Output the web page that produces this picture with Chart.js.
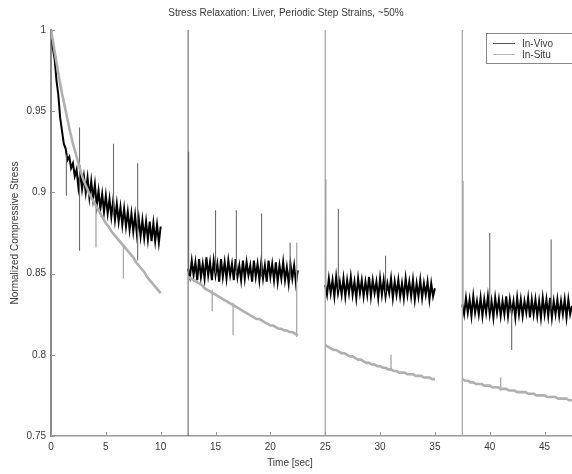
<!DOCTYPE html>
<html><head><meta charset="utf-8">
<script src="https://cdn.jsdelivr.net/npm/chart.js@4.4.1/dist/chart.umd.min.js"></script>
<style>html,body{margin:0;padding:0;background:#fff;}canvas{display:block;}</style>
</head><body>
<canvas id="c" width="572" height="474"></canvas>
<script>
const chartTitle = 'Stress Relaxation: Liver, Periodic Step Strains, ~50%';
const xTitle = 'Time [sec]';
const yTitle = 'Normalized Compressive Stress';
const seriesNames = ['In-Vivo', 'In-Situ'];
const xTicks = [0, 5, 10, 15, 20, 25, 30, 35, 40, 45];
const yTicks = [0.75, 0.8, 0.85, 0.9, 0.95, 1];
const segmentStarts = [0, 12.5, 25, 37.5];
const inVivoSampleStep = 1 / 6;
const inSituSampleStep = 0.25;

const inVivoSeg1 = [1.000,0.989,0.982,0.969,0.960,0.946,0.938,0.930,0.927,0.920,0.922,0.915,0.918,0.910,0.914,0.903,0.912,0.902,0.910,0.900,0.909,0.897,0.907,0.896,0.905,0.892,0.901,0.890,0.899,0.888,0.898,0.887,0.896,0.885,0.895,0.883,0.893,0.882,0.891,0.880,0.890,0.879,0.888,0.877,0.887,0.876,0.886,0.874,0.884,0.873,0.883,0.872,0.882,0.871,0.882,0.870,0.881,0.870,0.880,0.869,0.879];
const inVivoSeg2 = [0.853,0.848,0.858,0.849,0.857,0.846,0.859,0.848,0.856,0.847,0.860,0.849,0.857,0.846,0.858,0.849,0.856,0.845,0.859,0.848,0.857,0.847,0.858,0.849,0.856,0.846,0.859,0.848,0.855,0.846,0.858,0.847,0.857,0.849,0.855,0.845,0.858,0.848,0.856,0.846,0.857,0.847,0.855,0.845,0.858,0.848,0.856,0.846,0.857,0.845,0.855,0.847,0.857,0.846,0.854,0.844,0.856,0.847,0.855,0.844,0.852];
const inVivoSeg3 = [0.843,0.837,0.847,0.838,0.846,0.836,0.848,0.838,0.845,0.837,0.847,0.836,0.846,0.838,0.848,0.837,0.845,0.835,0.847,0.838,0.846,0.836,0.845,0.837,0.848,0.836,0.846,0.838,0.845,0.835,0.847,0.837,0.846,0.836,0.844,0.838,0.847,0.835,0.845,0.837,0.846,0.836,0.844,0.835,0.847,0.837,0.845,0.836,0.846,0.834,0.844,0.836,0.846,0.835,0.844,0.837,0.845,0.834,0.844,0.836,0.841];
const inVivoSeg4 = [0.831,0.825,0.835,0.826,0.834,0.824,0.836,0.826,0.833,0.825,0.835,0.824,0.834,0.826,0.836,0.825,0.833,0.823,0.835,0.826,0.834,0.824,0.833,0.825,0.836,0.824,0.834,0.826,0.833,0.823,0.835,0.825,0.834,0.824,0.833,0.826,0.835,0.823,0.834,0.825,0.834,0.824,0.833,0.823,0.835,0.825,0.834,0.824,0.835,0.823,0.833,0.825,0.834,0.824,0.833,0.825,0.834,0.823,0.834,0.825,0.830];
// [time, low, high] of the thin spikes and step lines in the In-Vivo trace
const inVivoSpikes = [[1.4,0.898,0.923],[2.6,0.864,0.940],[5.7,0.886,0.930],[7.9,0.858,0.918],[12.5,0.740,1.010],[12.55,0.850,0.925],[15.0,0.850,0.889],[16.9,0.850,0.889],[19.2,0.848,0.887],[21.8,0.846,0.869],[25.05,0.840,0.908],[26.2,0.840,0.890],[30.5,0.838,0.861],[37.55,0.828,0.907],[40.0,0.829,0.875],[42.0,0.803,0.829],[45.6,0.828,0.871]];

const inSituSeg1 = [1.000,0.990,0.980,0.970,0.961,0.953,0.945,0.937,0.930,0.924,0.918,0.912,0.907,0.903,0.899,0.896,0.893,0.890,0.887,0.884,0.881,0.879,0.876,0.874,0.872,0.870,0.868,0.866,0.864,0.862,0.860,0.857,0.855,0.853,0.851,0.848,0.846,0.844,0.842,0.840,0.838];
const inSituSeg2 = [0.848,0.847,0.846,0.845,0.844,0.843,0.841,0.840,0.839,0.838,0.837,0.836,0.835,0.834,0.833,0.832,0.831,0.830,0.829,0.828,0.827,0.826,0.825,0.824,0.823,0.822,0.822,0.821,0.820,0.819,0.818,0.818,0.817,0.816,0.816,0.815,0.815,0.814,0.814,0.813,0.812];
const inSituSeg3 = [0.806,0.805,0.804,0.803,0.803,0.802,0.801,0.801,0.800,0.799,0.799,0.798,0.797,0.797,0.796,0.795,0.795,0.794,0.794,0.793,0.793,0.792,0.792,0.791,0.791,0.790,0.790,0.789,0.789,0.789,0.788,0.788,0.788,0.787,0.787,0.787,0.786,0.786,0.786,0.785,0.785];
const inSituSeg4 = [0.785,0.784,0.784,0.783,0.783,0.782,0.782,0.782,0.781,0.781,0.781,0.780,0.780,0.780,0.779,0.779,0.779,0.778,0.778,0.778,0.777,0.777,0.777,0.777,0.776,0.776,0.776,0.775,0.775,0.775,0.775,0.774,0.774,0.774,0.774,0.773,0.773,0.773,0.773,0.772,0.772];
const inSituSpikes = [[4.1,0.866,0.893],[6.6,0.847,0.868],[14.7,0.827,0.840],[16.6,0.812,0.832],[22.4,0.811,0.869],[25.0,0.740,1.010],[37.5,0.740,1.010],[31.0,0.790,0.800],[41.0,0.778,0.786]];

function buildSeries(segments, dt) {
  const pts = [];
  segments.forEach((vals, i) => {
    const t0 = segmentStarts[i];
    vals.forEach((v, k) => pts.push({x: t0 + k * dt, y: v}));
    pts.push({x: t0 + (vals.length - 1) * dt, y: null});
  });
  return pts;
}
function buildSpikes(list) {
  const pts = [];
  list.forEach(([t, lo, hi]) => { pts.push({x: t, y: lo}, {x: t, y: hi}, {x: t, y: null}); });
  return pts;
}

const FONT = "'Liberation Sans', Arial, Helvetica, sans-serif";
const TXT = '#3a3a3a';
const VIVO = '#000000', SITU = '#b0b0b0';

const extras = {
  id: 'extras',
  afterDraw(chart) {
    const ctx = chart.ctx, ca = chart.chartArea;
    const xs = chart.scales.x, ys = chart.scales.y;
    ctx.save();
    ctx.strokeStyle = '#999';
    ctx.lineWidth = 1;
    ctx.beginPath();
    yTicks.forEach(v => { const p = Math.round(ys.getPixelForValue(v)) + 0.5; ctx.moveTo(ca.left, p); ctx.lineTo(ca.left + 4, p); });
    xTicks.forEach(v => { const p = Math.round(xs.getPixelForValue(v)) + 0.5; ctx.moveTo(p, ca.bottom); ctx.lineTo(p, ca.bottom - 4); });
    ctx.stroke();
    ctx.fillStyle = TXT;
    ctx.font = '10px ' + FONT;
    ctx.textAlign = 'center';
    ctx.textBaseline = 'middle';
    ctx.fillText(xTitle, 290, 463);
    // legend
    const bx = 486, by = 33, bw = 90, bh = 30;
    ctx.fillStyle = '#fff';
    ctx.fillRect(bx, by, bw, bh);
    ctx.strokeStyle = '#888';
    ctx.strokeRect(bx + 0.5, by + 0.5, bw, bh);
    const entries = chart.data.datasets.filter(d => d.legend);
    entries.sort((a, b) => a.legend - b.legend).forEach((ds, i) => {
      const yy = by + 10 + i * 11;
      ctx.strokeStyle = i === 0 ? '#555' : '#b8b8b8';
      ctx.lineWidth = 1;
      ctx.beginPath(); ctx.moveTo(bx + 7, yy + 0.5); ctx.lineTo(bx + 29, yy + 0.5); ctx.stroke();
      ctx.fillStyle = TXT;
      ctx.textAlign = 'left';
      ctx.fillText(ds.label, bx + 36, yy + 1);
    });
    ctx.restore();
  }
};

const common = { showLine: true, pointRadius: 0, spanGaps: false, clip: 0 };
new Chart(document.getElementById('c'), {
  type: 'scatter',
  data: {
    datasets: [
      Object.assign({ label: seriesNames[1], legend: 2, data: buildSeries([inSituSeg1, inSituSeg2, inSituSeg3, inSituSeg4], inSituSampleStep), borderColor: SITU, borderWidth: 2.6 }, common),
      Object.assign({ label: seriesNames[1] + ' spikes', data: buildSpikes(inSituSpikes), borderColor: '#a8a8a8', borderWidth: 1.3 }, common),
      Object.assign({ label: seriesNames[0] + ' spikes', data: buildSpikes(inVivoSpikes), borderColor: '#6a6a6a', borderWidth: 1.1 }, common),
      Object.assign({ label: seriesNames[0], legend: 1, data: buildSeries([inVivoSeg1, inVivoSeg2, inVivoSeg3, inVivoSeg4], inVivoSampleStep), borderColor: VIVO, borderWidth: 2 }, common)
    ]
  },
  options: {
    responsive: false,
    animation: false,
    layout: { padding: 0 },
    plugins: {
      legend: { display: false },
      tooltip: { enabled: false },
      title: { display: true, text: chartTitle, color: TXT, font: { family: FONT, size: 10, weight: 'normal' }, padding: { top: 7, bottom: 11 } }
    },
    scales: {
      x: {
        type: 'linear', min: 0, max: 47.5,
        afterBuildTicks: s => { s.ticks = xTicks.map(v => ({value: v})); },
        afterFit: s => { s.height = 38; },
        grid: { display: false, drawTicks: false },
        border: { display: true, color: '#9a9a9a', width: 1.5 },
        ticks: { color: TXT, font: { family: FONT, size: 10 }, padding: 5, maxRotation: 0, autoSkip: false }
      },
      y: {
        type: 'linear', min: 0.75, max: 1,
        afterBuildTicks: s => { s.ticks = yTicks.map(v => ({value: v})); },
        afterFit: s => { s.width = 51; },
        grid: { display: false, drawTicks: false },
        border: { display: true, color: '#8a8a8a', width: 2 },
        title: { display: true, text: yTitle, color: TXT, font: { family: FONT, size: 10 }, padding: { top: 9, bottom: 0 } },
        ticks: { color: TXT, font: { family: FONT, size: 10 }, padding: 5, autoSkip: false,
          callback: v => String(Number(Number(v).toFixed(2))) }
      }
    }
  },
  plugins: [extras]
});
</script>
</body></html>
